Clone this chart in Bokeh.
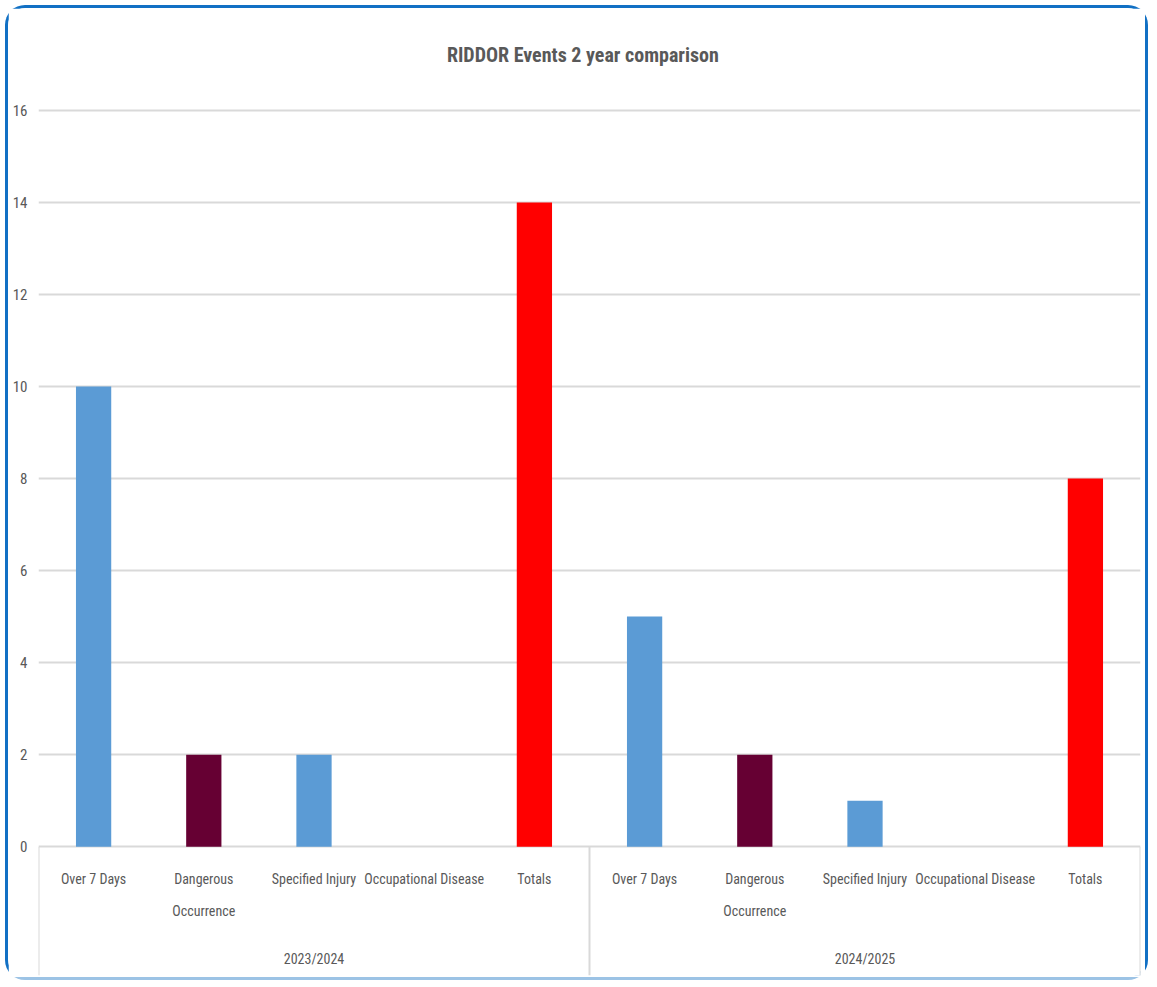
from bokeh.plotting import figure
from bokeh.models import Range1d, FixedTicker, ColumnDataSource, Label
from bokeh.core.properties import value
from bokeh.embed import file_html
from bokeh.resources import INLINE

# RIDDOR reportable events per category, two reporting years
years = ["2023/2024", "2024/2025"]
categories = ["Over 7 Days", "Dangerous\nOccurrence", "Specified Injury",
              "Occupational Disease", "Totals"]
counts_2023_24 = [10, 2, 2, 0, 14]
counts_2024_25 = [5, 2, 1, 0, 8]
category_colors = ["#5B9BD5", "#660033", "#5B9BD5", "#5B9BD5", "#FF0000"]
y_ticks = [0, 2, 4, 6, 8, 10, 12, 14, 16]
title_text = "RIDDOR Events 2 year comparison"

FONT = "Roboto Condensed"
TEXT_GREY = "#595959"
GRID_GREY = "#D9D9D9"

n_cat = len(categories)
n_slots = n_cat * len(years)
Y_MIN = -2.8    # room under the baseline for the two-level category axis
Y_MAX = 17.78   # headroom above the top gridline for the title
TITLE_Y = 17.2

# one slot per (year, category); bars sit at slot centres
bar_x, bar_top, bar_color = [], [], []
for g, counts in enumerate([counts_2023_24, counts_2024_25]):
    for i, v in enumerate(counts):
        bar_x.append(g * n_cat + i + 0.5)
        bar_top.append(v)
        bar_color.append(category_colors[i])
bars = ColumnDataSource(dict(x=bar_x, top=bar_top, color=bar_color))

p = figure(
    width=1143, height=975,
    x_range=Range1d(0, n_slots), y_range=Range1d(Y_MIN, Y_MAX),
    x_axis_location=None,
    output_backend="svg", toolbar_location=None,
    min_border_left=30, min_border_right=11,
    min_border_top=20, min_border_bottom=8,
)
p.styles = {
    "border": "3px solid #1170C4",
    "border-bottom-color": "#9CC3E5",
    "border-radius": "20px",
    "margin-left": "5px",
    "margin-top": "5px",
}
p.outline_line_color = None
p.background_fill_color = "white"

# value axis
p.yaxis.ticker = FixedTicker(ticks=y_ticks)
p.yaxis.axis_line_color = None
p.yaxis.major_tick_line_color = None
p.yaxis.major_tick_out = 0
p.yaxis.major_tick_in = 0
p.yaxis.minor_tick_line_color = None
p.yaxis.major_label_standoff = 11
p.yaxis.major_label_text_font = FONT
p.yaxis.major_label_text_font_size = "15px"
p.yaxis.major_label_text_color = TEXT_GREY

p.xgrid.visible = False
p.ygrid.ticker = FixedTicker(ticks=y_ticks)
p.ygrid.grid_line_color = GRID_GREY
p.ygrid.grid_line_width = 2

p.vbar(x="x", top="top", width=0.32, fill_color="color", line_color=None,
       source=bars)

# chart title, centred on the chart box
p.add_layout(Label(x=4.94, y=TITLE_Y, text=title_text,
                   text_align="center", text_baseline="middle",
                   text_font=FONT, text_font_size="20px",
                   text_font_style="bold", text_color=TEXT_GREY))

# group separators of the category axis
sep_x = [g * n_cat for g in range(len(years) + 1)]
p.segment(x0=sep_x, y0=[0] * len(sep_x), x1=sep_x, y1=[Y_MIN] * len(sep_x),
          line_color=GRID_GREY, line_width=2)

# category labels (first level)
lx, ly, lt, ldy = [], [], [], []
for g in range(len(years)):
    for i, name in enumerate(categories):
        for j, line in enumerate(name.split("\n")):
            lx.append(g * n_cat + i + 0.5)
            ly.append(0)
            lt.append(line)
            ldy.append(32 + 32 * j)
cat_labels = ColumnDataSource(dict(x=lx, y=ly, text=lt, dy=ldy))
p.text(x="x", y="y", text="text", y_offset="dy", source=cat_labels,
       text_align="center", text_baseline="middle",
       text_font=value(FONT), text_font_size="14px", text_color=TEXT_GREY)

# year labels (second level)
year_labels = ColumnDataSource(dict(
    x=[g * n_cat + n_cat / 2 for g in range(len(years))],
    y=[0] * len(years), text=years))
p.text(x="x", y="y", text="text", y_offset=112, source=year_labels,
       text_align="center", text_baseline="middle",
       text_font=value(FONT), text_font_size="14px", text_color=TEXT_GREY)

open("out.html", "w").write(file_html(p, INLINE))
